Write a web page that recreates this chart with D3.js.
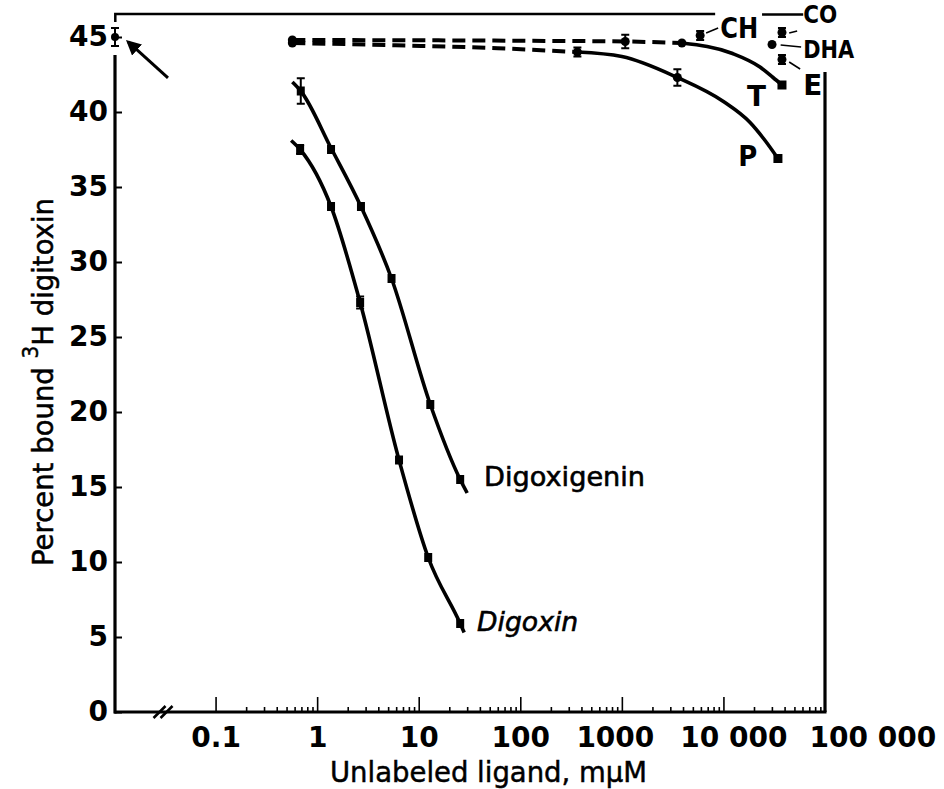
<!DOCTYPE html>
<html><head><meta charset="utf-8">
<script src="https://cdn.jsdelivr.net/npm/d3@7"></script>
<style>body{margin:0;background:#fff}svg{display:block}</style>
</head><body><svg id="c" width="944" height="789"></svg>
<script>
// ---------- data ----------
const yTickValues = [0, 5, 10, 15, 20, 25, 30, 35, 40, 45];
const xTickValues = [0.1, 1, 10, 100, 1000, 10000, 100000];
const xTickLabels = ["0.1", "1", "10", "100", "1000", "10 000", "100 000"];
const xTitle = "Unlabeled ligand, mμM";

// [concentration mμM, percent bound]
const digoxigeninCurve = [[0.57, 42.0], [0.69, 41.4], [1.37, 37.6], [2.7, 33.7], [5.4, 28.9], [13, 20.5], [25.6, 15.5], [30, 14.6]];
const digoxigeninPoints = [[0.69, 41.4, 0.85], [1.37, 37.5, 0], [2.7, 33.7, 0], [5.4, 28.9, 0], [13, 20.5, 0], [25.6, 15.5, 0]];
const digoxinCurve = [[0.555, 38.1], [0.68, 37.5], [1.37, 33.7], [2.65, 27.3], [6.4, 16.8], [12.4, 10.3], [25.6, 5.9], [28, 5.3]];
const digoxinPoints = [[0.68, 37.5, 0.3], [1.37, 33.7, 0], [2.65, 27.3, 0.4], [6.4, 16.8, 0], [12.4, 10.3, 0], [25.6, 5.9, 0]];
const tDashed = [[0.57, 44.8], [100, 44.75], [1080, 44.7], [3900, 44.6]];
const tCurve = [[3900, 44.6], [12300, 43.9], [22900, 43.0], [30800, 42.3], [37700, 41.8]];
const pDashed = [[0.57, 44.6], [5.9, 44.45], [60, 44.25], [365, 44.0]];
const pCurve = [[365, 44.0], [1000, 43.7], [3520, 42.3], [10000, 40.7], [18300, 39.3], [25700, 38.1], [34400, 36.9]];
const roundPoints = [[0.57, 44.8, 0], [0.57, 44.6, 0], [1080, 44.7, 0.45], [365, 44.0, 0.3], [3520, 42.3, 0.55], [3900, 44.6, 0],
                     [5900, 45.1, 0.3], [37700, 45.3, 0.3], [30100, 44.5, 0], [37700, 43.5, 0.3]];
const squarePoints = [[37700, 41.8], [34400, 36.9]];
const zeroDosePoint = [45, 0.6];

// annotation labels: [text, x value, y value (vertical centre)]
const labelTexts = ["CH", "CO", "DHA", "E", "T", "P", "Digoxigenin", "Digoxin"];
const labelX = [9300, 61000, 61000, 61000, 17100, 14000, 44, 37.6];
const labelY = [45.6, 46.55, 44.2, 41.8, 41.1, 37.1, 15.7, 6.0];
// leader lines [x1,y1,x2,y2]
const leaders = [[6760, 45.27, 8870, 45.6], [44400, 45.27, 53200, 45.4], [36600, 44.47, 58200, 44.33], [44400, 43.33, 56900, 42.87]];
const arrowLine = [0.034, 42.27, 0.0138, 44.67];

// ---------- drawing ----------
const svg = d3.select("#c");
const x = d3.scaleLog().domain([0.01, 100000]).range([114, 825]);
const y = d3.scaleLinear().domain([0, 45]).range([712, 37]);
const FONT = "'DejaVu Sans', sans-serif";

// y axis
const gy = svg.append("g").attr("transform", `translate(${x.range()[0] + 1},0)`)
  .call(d3.axisLeft(y).tickValues(yTickValues).tickSize(-7).tickPadding(7));
gy.select(".domain").remove();
gy.selectAll(".tick line").attr("stroke", "#000").attr("stroke-width", 2);
gy.selectAll(".tick text").attr("font-family", FONT).attr("font-weight", "bold").attr("font-size", 28).attr("fill", "#000");
svg.append("line").attr("x1", x.range()[0] + 1).attr("x2", x.range()[0] + 1).attr("y1", y(43.8)).attr("y2", y(0) + 1.5)
  .attr("stroke", "#000").attr("stroke-width", 3.2);

// x axis: minor and major ticks
const minor = [];
for (let e = -1; e <= 4; e++) for (let m = 2; m <= 9; m++) minor.push(m * Math.pow(10, e));
const gxm = svg.append("g").attr("transform", `translate(0,${y(0)})`)
  .call(d3.axisBottom(x).tickValues(minor).tickSize(-5).tickFormat(""));
gxm.select(".domain").remove();
gxm.selectAll(".tick line").attr("stroke", "#000").attr("stroke-width", 1.6);
const gx = svg.append("g").attr("transform", `translate(0,${y(0)})`)
  .call(d3.axisBottom(x).tickValues(xTickValues).tickSize(-15).tickPadding(15).tickFormat((d, i) => xTickLabels[i]));
gx.select(".domain").remove();
gx.selectAll(".tick line").attr("stroke", "#000").attr("stroke-width", 1.6);
gx.selectAll(".tick text").attr("font-family", FONT).attr("font-weight", "bold").attr("font-size", 28).attr("fill", "#000")
  .each(function (d, i) {
    const t = d3.select(this);
    if (i === xTickLabels.length - 1) t.attr("text-anchor", "start").attr("x", -16);
    else if (i === xTickLabels.length - 2) t.attr("x", 10);
    else if (i === xTickLabels.length - 3) t.attr("x", -7);
  });
gx.selectAll(".tick").filter(d => d === 100000).select("line").remove();
svg.append("line").attr("x1", x.range()[0]).attr("x2", x.range()[1] + 1.5).attr("y1", y(0)).attr("y2", y(0))
  .attr("stroke", "#000").attr("stroke-width", 3.2);
// right axis
svg.append("line").attr("x1", x(100000)).attr("x2", x(100000)).attr("y1", y(42.67)).attr("y2", y(0))
  .attr("stroke", "#000").attr("stroke-width", 3.2);
// axis break
[0, 7].forEach(o => svg.append("line").attr("x1", x(0.0245) + o).attr("y1", y(0) + 6).attr("x2", x(0.0245) + o + 12).attr("y2", y(0) - 6)
  .attr("stroke", "#000").attr("stroke-width", 2.5));
// top frame segments
svg.append("path").attr("d", `M${x(0.0103)},${y(46.0)}V${y(46.53)}H${x(8290)}M${x(24000)},${y(46.5)}H${x(61000)}`)
  .attr("fill", "none").attr("stroke", "#000").attr("stroke-width", 2.5);

// titles
svg.append("text").attr("x", 330).attr("y", 782).attr("font-family", FONT).attr("font-size", 29)
  .attr("textLength", 317).attr("lengthAdjust", "spacingAndGlyphs").attr("fill", "#000")
  .attr("stroke", "#000").attr("stroke-width", 0.5).text(xTitle);
const yt = svg.append("text").attr("transform", "translate(53,382) rotate(-90)").attr("text-anchor", "middle")
  .attr("font-family", FONT).attr("font-size", 29).attr("fill", "#000").attr("stroke", "#000").attr("stroke-width", 0.5)
  .attr("textLength", 368).attr("lengthAdjust", "spacingAndGlyphs");
yt.append("tspan").text("Percent bound ");
yt.append("tspan").attr("dy", -15).attr("font-size", 21).text("3");
yt.append("tspan").attr("dy", 15).text("H digitoxin");

// curves
const line = d3.line().x(d => x(d[0])).y(d => y(d[1])).curve(d3.curveMonotoneX);
[digoxigeninCurve, digoxinCurve, tCurve, pCurve].forEach(c =>
  svg.append("path").attr("d", line(c)).attr("fill", "none").attr("stroke", "#000").attr("stroke-width", 3.6));
[tDashed, pDashed].forEach(c =>
  svg.append("path").attr("d", line(c)).attr("fill", "none").attr("stroke", "#000").attr("stroke-width", 4)
    .attr("stroke-dasharray", "13,7"));

// error bars
function errBar(px, py, e) {
  if (!e) return;
  svg.append("path").attr("d", `M${px},${y(py - e)}V${y(py + e)}M${px - 4},${y(py - e)}h8M${px - 4},${y(py + e)}h8`)
    .attr("fill", "none").attr("stroke", "#000").attr("stroke-width", 2);
}
digoxigeninPoints.concat(digoxinPoints).forEach(d => {
  errBar(x(d[0]), d[1], d[2]);
  svg.append("rect").attr("x", x(d[0]) - 4).attr("y", y(d[1]) - 4.5).attr("width", 8).attr("height", 9).attr("fill", "#000");
});
roundPoints.forEach(d => {
  errBar(x(d[0]), d[1], d[2]);
  svg.append("circle").attr("cx", x(d[0])).attr("cy", y(d[1])).attr("r", 4.5).attr("fill", "#000");
});
squarePoints.forEach(d => svg.append("rect").attr("x", x(d[0]) - 4.5).attr("y", y(d[1]) - 4.5).attr("width", 9).attr("height", 9).attr("fill", "#000"));
// zero-dose point on the y axis
errBar(x.range()[0] + 1, zeroDosePoint[0], zeroDosePoint[1]);
svg.append("circle").attr("cx", x.range()[0] + 1).attr("cy", y(zeroDosePoint[0])).attr("r", 4).attr("fill", "#000");

// arrow
svg.append("defs").append("marker").attr("id", "ah").attr("viewBox", "0 0 10 10").attr("refX", 8).attr("refY", 5)
  .attr("markerWidth", 5).attr("markerHeight", 5).attr("orient", "auto")
  .append("path").attr("d", "M0,0L10,5L0,10z").attr("fill", "#000");
svg.append("line").attr("x1", x(arrowLine[0])).attr("y1", y(arrowLine[1])).attr("x2", x(arrowLine[2])).attr("y2", y(arrowLine[3]))
  .attr("stroke", "#000").attr("stroke-width", 3).attr("marker-end", "url(#ah)");

// leaders
leaders.forEach(l => svg.append("line").attr("x1", x(l[0])).attr("y1", y(l[1])).attr("x2", x(l[2])).attr("y2", y(l[3]))
  .attr("stroke", "#000").attr("stroke-width", 1.6));

// labels
labelTexts.forEach((t, i) => {
  const el = svg.append("text").attr("x", x(labelX[i])).attr("y", y(labelY[i])).attr("dy", "0.36em")
    .attr("font-family", FONT).attr("font-weight", "bold").attr("fill", "#000").text(t);
  if (t === "Digoxigenin") el.attr("font-size", 26).attr("font-weight", "normal").attr("textLength", 161).attr("lengthAdjust", "spacingAndGlyphs").attr("stroke", "#000").attr("stroke-width", 0.6);
  else if (t === "Digoxin") el.attr("font-size", 26).attr("font-weight", "normal").attr("font-style", "italic").attr("textLength", 101).attr("lengthAdjust", "spacingAndGlyphs").attr("stroke", "#000").attr("stroke-width", 0.6);
  else if (t === "CO" || t === "DHA") el.attr("font-size", 25).attr("textLength", t.length * 17).attr("lengthAdjust", "spacingAndGlyphs");
  else el.attr("font-size", 28).attr("textLength", t.length * 19).attr("lengthAdjust", "spacingAndGlyphs");
});
</script></body></html>
